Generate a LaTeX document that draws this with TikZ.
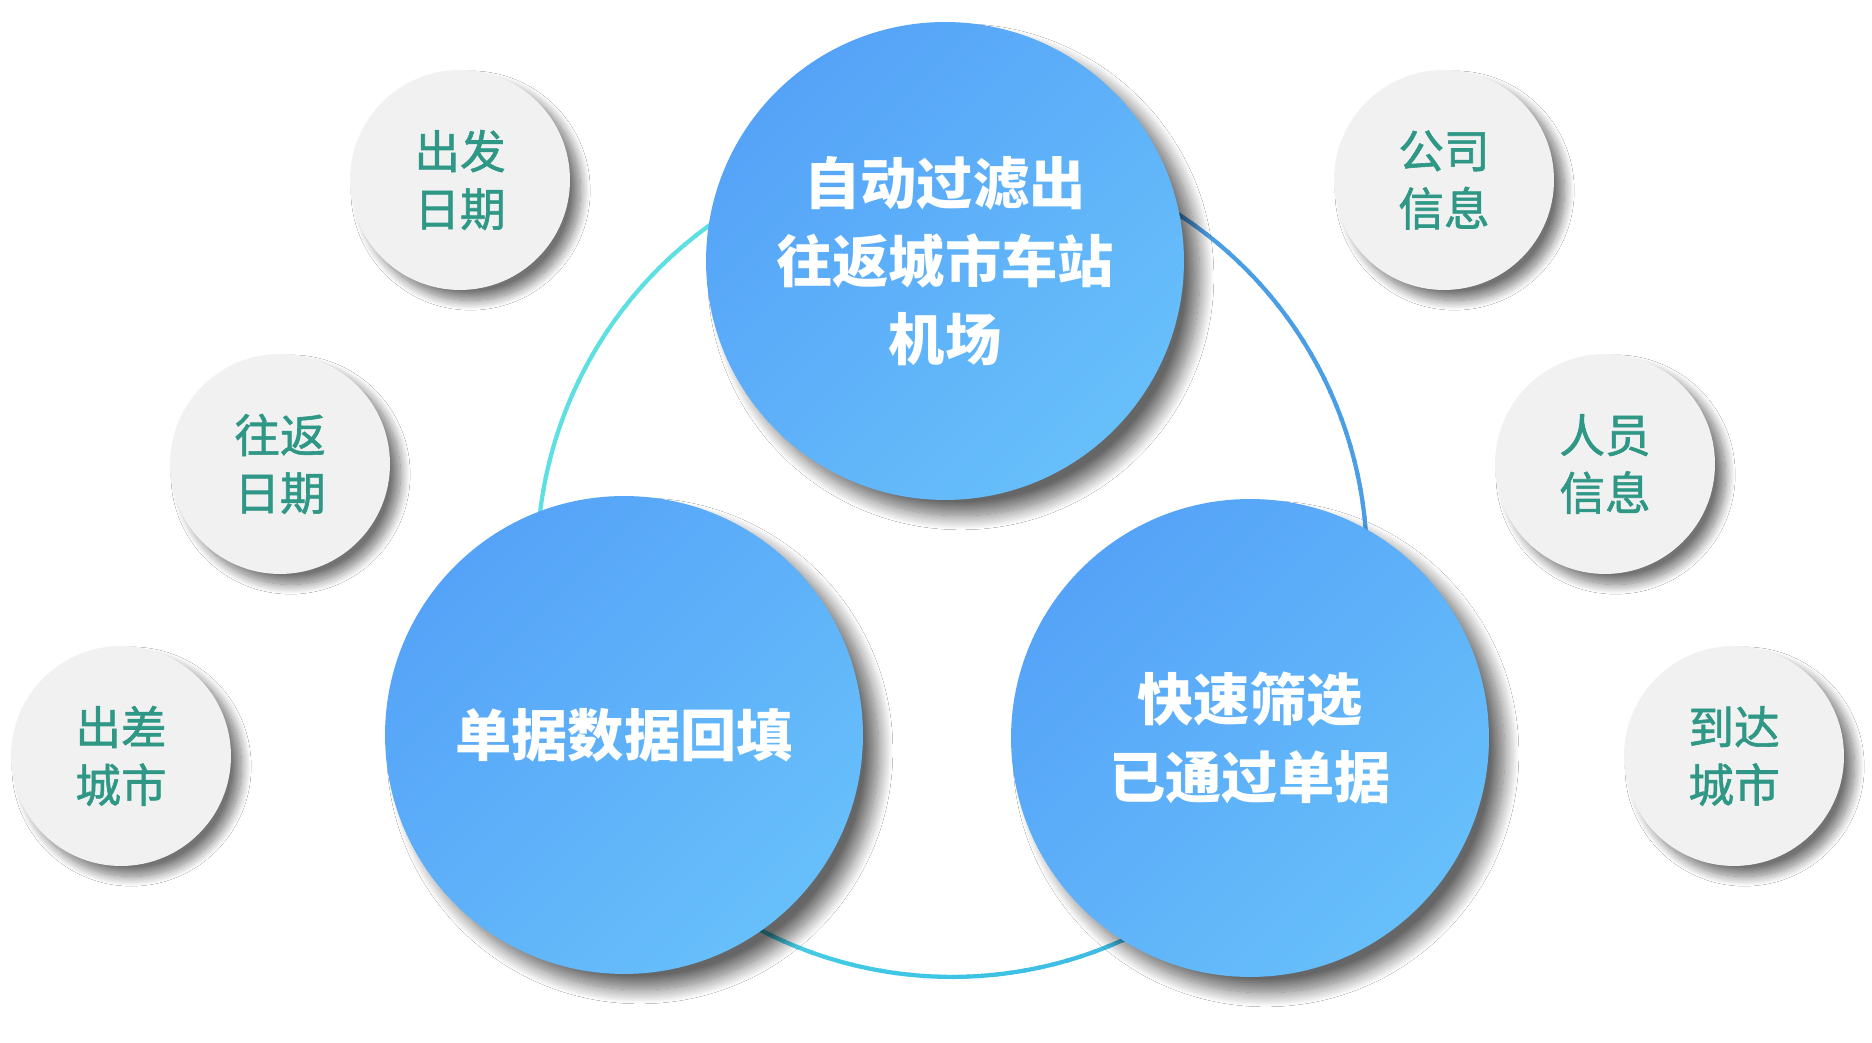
\documentclass[tikz,border=0pt]{standalone}
\usepackage{fontspec}
\newfontfamily\cjk{Noto Sans CJK SC}
\newfontfamily\cjkm[FakeBold=1.3]{Noto Sans CJK SC}
\usetikzlibrary{shadows.blur}
\definecolor{ringA}{HTML}{5EE0E2}
\definecolor{ringB}{HTML}{3CC4E4}
\definecolor{ringC}{HTML}{4A9EE6}
\definecolor{bigA}{HTML}{55A3F8}
\definecolor{bigB}{HTML}{67BFFA}
\definecolor{smallfill}{HTML}{F1F1F1}
\definecolor{tealtxt}{HTML}{2E9785}
\begin{document}
\begin{tikzpicture}[x=0.02cm,y=0.02cm,
 big/.style={circle, minimum size=9.56cm, inner sep=0pt, top color=bigA, bottom color=bigB, shading angle=45,
   text=white, align=center, font=\cjk\bfseries\fontsize{32pt}{44.2pt}\selectfont,
   blur shadow={shadow xshift=9pt, shadow yshift=-9pt, shadow blur radius=8pt, shadow opacity=60, shadow blur steps=20}},
 small/.style={circle, minimum size=4.4cm, inner sep=0pt, fill=smallfill, text=tealtxt, align=center,
   font=\cjkm\fontsize{26pt}{32.9pt}\selectfont,
   blur shadow={shadow xshift=6pt, shadow yshift=-6pt, shadow blur radius=5.5pt, shadow opacity=55, shadow blur steps=16}},
 ringseg/.style={line width=2.4pt}]
\useasboundingbox[fill=white] (0,0) rectangle (1872,1043);
% ring with angular colour gradient
\coordinate (rc) at (952,481);
\foreach \a in {90,92,...,448}{
  \pgfmathsetmacro{\tA}{min(100,max(0,(\a-180)/90*100))}
  \pgfmathsetmacro{\tB}{min(100,max(0,(\a-270)/90*100))}
  \colorlet{segc}{ringB!\tA!ringA}
  \colorlet{segc}{ringC!\tB!segc}
  \draw[ringseg, segc] (rc) ++(\a:8.3cm) arc[start angle=\a, end angle=\a+2.3, radius=8.3cm];
}
% small circles
\node[small] (s1) at (460,863) {出发\\日期};
\node[small] (s2) at (280,579) {往返\\日期};
\node[small] (s3) at (121,287) {出差\\城市};
\node[small] (s4) at (1444,863) {公司\\信息};
\node[small] (s5) at (1605,579) {人员\\信息};
\node[small] (s6) at (1734,287) {到达\\城市};
% big circles
\node[big] (top) at (945,782) {自动过滤出\\往返城市车站\\机场};
\node[big] (bl) at (624,308) {单据数据回填};
\node[big] (br) at (1250,305) {快速筛选\\已通过单据};
\end{tikzpicture}
\end{document}
